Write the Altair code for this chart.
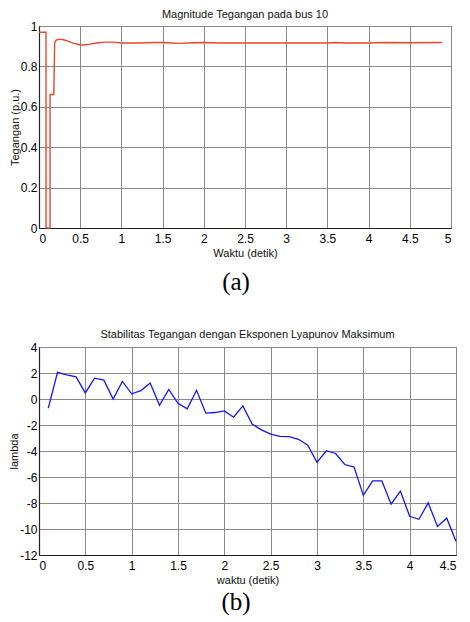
import altair as alt
import pandas as pd

# Panel (a): voltage magnitude at bus 10
t_a = [0, 0.085, 0.085, 0.134, 0.134, 0.18, 0.19, 0.21, 0.25, 0.3,
       0.35, 0.42, 0.5, 0.55, 0.62, 0.7, 0.8, 0.9, 1.0, 1.2,
       1.4, 1.5, 1.6, 1.7, 1.8, 2.0, 2.2, 2.5, 3.0, 3.5,
       3.6, 3.7, 4.0, 4.2, 4.5, 4.89]
v_a = [0.969, 0.969, 0, 0, 0.661, 0.661, 0.917, 0.93, 0.935, 0.932,
       0.925, 0.914, 0.907, 0.906, 0.91, 0.916, 0.92, 0.92, 0.916, 0.916,
       0.918, 0.918, 0.916, 0.914, 0.916, 0.918, 0.916, 0.916, 0.916, 0.916,
       0.918, 0.916, 0.916, 0.918, 0.917, 0.918]

# Panel (b): maximum Lyapunov exponent
t_b = [0.1, 0.2, 0.3, 0.4, 0.5, 0.6, 0.7, 0.8, 0.9, 1.0,
       1.1, 1.2, 1.3, 1.4, 1.5, 1.6, 1.7, 1.8, 1.9, 2.0,
       2.1, 2.2, 2.3, 2.4, 2.5, 2.6, 2.7, 2.8, 2.9, 3.0,
       3.1, 3.2, 3.3, 3.4, 3.5, 3.6, 3.7, 3.8, 3.9, 4.0,
       4.1, 4.2, 4.3, 4.4, 4.5]
v_b = [-0.7, 2.05, 1.85, 1.7, 0.47, 1.6, 1.45, 0.0, 1.35, 0.4,
       0.65, 1.23, -0.48, 0.73, -0.33, -0.76, 0.67, -1.09, -1.04, -0.92,
       -1.4, -0.53, -1.92, -2.37, -2.7, -2.88, -2.9, -3.1, -3.56, -4.87,
       -3.98, -4.19, -5.04, -5.24, -7.41, -6.3, -6.3, -8.09, -7.08, -9.02,
       -9.25, -7.99, -9.8, -9.17, -10.94]

xticks_a = [0, 0.5, 1, 1.5, 2, 2.5, 3, 3.5, 4, 4.5, 5]
yticks_a = [0, 0.2, 0.4, 0.6, 0.8, 1]
xticks_b = [0, 0.5, 1, 1.5, 2, 2.5, 3, 3.5, 4, 4.5]
yticks_b = [-12, -10, -8, -6, -4, -2, 0, 2, 4]

FONT = "Liberation Sans"
SERIF = "Liberation Serif"

dfa = pd.DataFrame({"t": t_a, "v": v_a, "i": list(range(len(t_a)))})
dfb = pd.DataFrame({"t": t_b, "v": v_b, "i": list(range(len(t_b)))})


def title(txt, off):
    return alt.TitleParams(txt, font=FONT, fontSize=11, fontWeight="normal",
                           color="#111", offset=off, anchor="middle")


chart_a = alt.Chart(dfa).mark_line(color="#e8472e", strokeWidth=1.4).encode(
    x=alt.X("t:Q", scale=alt.Scale(domain=[0, 5], nice=False),
            axis=alt.Axis(values=xticks_a, title="Waktu (detik)",
                          labelExpr="'' + datum.value")),
    y=alt.Y("v:Q", scale=alt.Scale(domain=[0, 1], nice=False),
            axis=alt.Axis(values=yticks_a, title="Tegangan (p.u.)",
                          labelExpr="'' + datum.value")),
    order="i:Q",
).properties(width=412, height=202, title=title("Magnitude Tegangan pada bus 10", 0))

chart_b = alt.Chart(dfb).mark_line(color="#1414ff", strokeWidth=1.3).encode(
    x=alt.X("t:Q", scale=alt.Scale(domain=[0, 4.5], nice=False),
            axis=alt.Axis(values=xticks_b, title="waktu (detik)",
                          labelExpr="'' + datum.value")),
    y=alt.Y("v:Q", scale=alt.Scale(domain=[-12, 4], nice=False),
            axis=alt.Axis(values=yticks_b, title="lambda",
                          labelExpr="'' + datum.value")),
    order="i:Q",
).properties(width=417, height=208,
             title=title("Stabilitas Tegangan dengan Eksponen Lyapunov Maksimum", 1))


def label_chart(txt, h, ypos):
    return alt.Chart(pd.DataFrame({"lab": [txt]})).mark_text(
        font=SERIF, fontSize=25, baseline="middle", color="#000"
    ).encode(text="lab:N", x=alt.value(197), y=alt.value(ypos)).properties(
        width=412, height=h, view=alt.ViewConfig(stroke="transparent"))


chart = alt.vconcat(
    chart_a, label_chart("(a)", 67, 22), chart_b, label_chart("(b)", 24, 15),
    spacing=0, padding=0,
).configure_view(
    stroke="#222", strokeWidth=1
).configure_axis(
    labelFont=FONT, labelFontSize=12, labelColor="#000",
    titleFont=FONT, titleFontSize=11, titleFontWeight="normal", titleColor="#111",
    ticks=False, domainColor="#222", domainWidth=1.2,
    gridColor="#8a8a8a", gridWidth=1, gridOpacity=1,
).configure_axisX(
    labelPadding=5, titlePadding=3,
).configure_axisY(
    labelPadding=2, titlePadding=0,
)

chart.save("out.html", embed_options={"renderer": "svg", "actions": False})
